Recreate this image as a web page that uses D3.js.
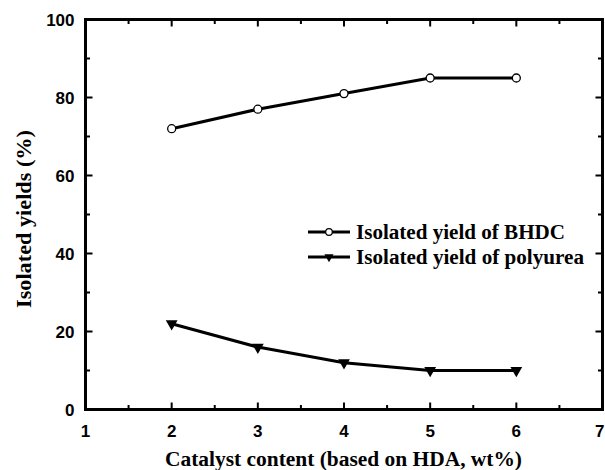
<!DOCTYPE html>
<html><head><meta charset="utf-8">
<script src="https://cdn.jsdelivr.net/npm/d3@7"></script>
<style>body{margin:0;background:#fff}</style>
</head><body>
<svg id="c" width="605" height="470"></svg>
<script>
const catalyst = [2, 3, 4, 5, 6];
const yieldBHDC = [72, 77, 81, 85, 85];
const yieldPolyurea = [22, 16, 12, 10, 10];
const xTicks = [1, 2, 3, 4, 5, 6, 7];
const yTicks = [0, 20, 40, 60, 80, 100];
const seriesNames = ["Isolated yield of BHDC", "Isolated yield of polyurea"];

const svg = d3.select("#c");
const L = 85.5, R = 602.5, T = 19.5, B = 409.5;
const x = d3.scaleLinear().domain([1, 7]).range([L, R]);
const y = d3.scaleLinear().domain([0, 100]).range([B, T]);

const tickFont = "Liberation Sans, Arial, sans-serif";
const serif = "Liberation Serif, Times New Roman, serif";

// frame
svg.append("rect").attr("x", L).attr("y", T).attr("width", R - L).attr("height", B - T)
  .attr("fill", "none").attr("stroke", "#000").attr("stroke-width", 3);

const xMinor = d3.range(1.5, 7, 1);
const yMinor = d3.range(10, 100, 20);
const g = svg.append("g").attr("stroke", "#000").attr("stroke-width", 2);
const MJ = 7, MN = 4.5;
xTicks.forEach(v => {
  g.append("line").attr("x1", x(v)).attr("x2", x(v)).attr("y1", B).attr("y2", B - MJ);
  g.append("line").attr("x1", x(v)).attr("x2", x(v)).attr("y1", T).attr("y2", T + MJ);
});
xMinor.forEach(v => {
  g.append("line").attr("x1", x(v)).attr("x2", x(v)).attr("y1", B).attr("y2", B - MN);
  g.append("line").attr("x1", x(v)).attr("x2", x(v)).attr("y1", T).attr("y2", T + MN);
});
yTicks.forEach(v => {
  g.append("line").attr("x1", L).attr("x2", L + MJ).attr("y1", y(v)).attr("y2", y(v));
  g.append("line").attr("x1", R).attr("x2", R - MJ).attr("y1", y(v)).attr("y2", y(v));
});
yMinor.forEach(v => {
  g.append("line").attr("x1", L).attr("x2", L + MN).attr("y1", y(v)).attr("y2", y(v));
  g.append("line").attr("x1", R).attr("x2", R - MN).attr("y1", y(v)).attr("y2", y(v));
});

// tick labels
svg.append("g").selectAll("text").data(xTicks).join("text")
  .attr("x", d => d === 7 ? 604.5 : x(d)).attr("y", 437)
  .attr("text-anchor", d => d === 7 ? "end" : "middle")
  .attr("font-family", tickFont).attr("font-weight", "bold").attr("font-size", 17)
  .text(d => d);
svg.append("g").selectAll("text").data(yTicks).join("text")
  .attr("x", 74.5).attr("y", d => y(d) + 6).attr("text-anchor", "end")
  .attr("font-family", tickFont).attr("font-weight", "bold").attr("font-size", 17)
  .text(d => d);

// axis titles
svg.append("text").attr("x", 343.5).attr("y", 466).attr("text-anchor", "middle")
  .attr("font-family", serif).attr("font-weight", "bold").attr("font-size", 20)
  .attr("textLength", 357).attr("lengthAdjust", "spacingAndGlyphs")
  .text("Catalyst content (based on HDA, wt%)");
svg.append("text").attr("transform", `translate(31,219) rotate(-90)`)
  .attr("text-anchor", "middle")
  .attr("font-family", serif).attr("font-weight", "bold").attr("font-size", 20)
  .attr("textLength", 178).attr("lengthAdjust", "spacingAndGlyphs")
  .text("Isolated yields (%)");

const line = d3.line().x((d, i) => x(catalyst[i])).y(d => y(d));
svg.append("path").datum(yieldBHDC).attr("d", line).attr("fill", "none")
  .attr("stroke", "#000").attr("stroke-width", 3);
svg.append("path").datum(yieldPolyurea).attr("d", line).attr("fill", "none")
  .attr("stroke", "#000").attr("stroke-width", 3);

const tri = d3.symbol().type(d3.symbolTriangle).size(60);
function circ(sel, cx, cy) {
  sel.append("circle").attr("cx", cx).attr("cy", cy).attr("r", 4)
    .attr("fill", "#fff").attr("stroke", "#000").attr("stroke-width", 1.3);
}
function triD(sel, cx, cy) {
  sel.append("path").attr("d", tri).attr("transform", `translate(${cx},${cy}) rotate(180)`)
    .attr("fill", "#000");
}
yieldBHDC.forEach((v, i) => circ(svg, x(catalyst[i]), y(v)));
yieldPolyurea.forEach((v, i) => triD(svg, x(catalyst[i]), y(v)));

// legend
const lg = [232, 257];
const lw = [209, 228];
lg.forEach((ly, i) => {
  svg.append("line").attr("x1", 308).attr("x2", 350).attr("y1", ly).attr("y2", ly)
    .attr("stroke", "#000").attr("stroke-width", 3);
  if (i === 0) {
    svg.append("circle").attr("cx", 329).attr("cy", ly).attr("r", 3.3)
      .attr("fill", "#fff").attr("stroke", "#000").attr("stroke-width", 1.2);
  } else {
    svg.append("path").attr("d", d3.symbol().type(d3.symbolTriangle).size(36))
      .attr("transform", `translate(329,${ly}) rotate(180)`).attr("fill", "#000");
  }
  svg.append("text").attr("x", 356).attr("y", ly + 6.5)
    .attr("font-family", serif).attr("font-weight", "bold").attr("font-size", 20)
    .attr("textLength", lw[i]).attr("lengthAdjust", "spacingAndGlyphs")
    .text(seriesNames[i]);
});
</script>
</body></html>
